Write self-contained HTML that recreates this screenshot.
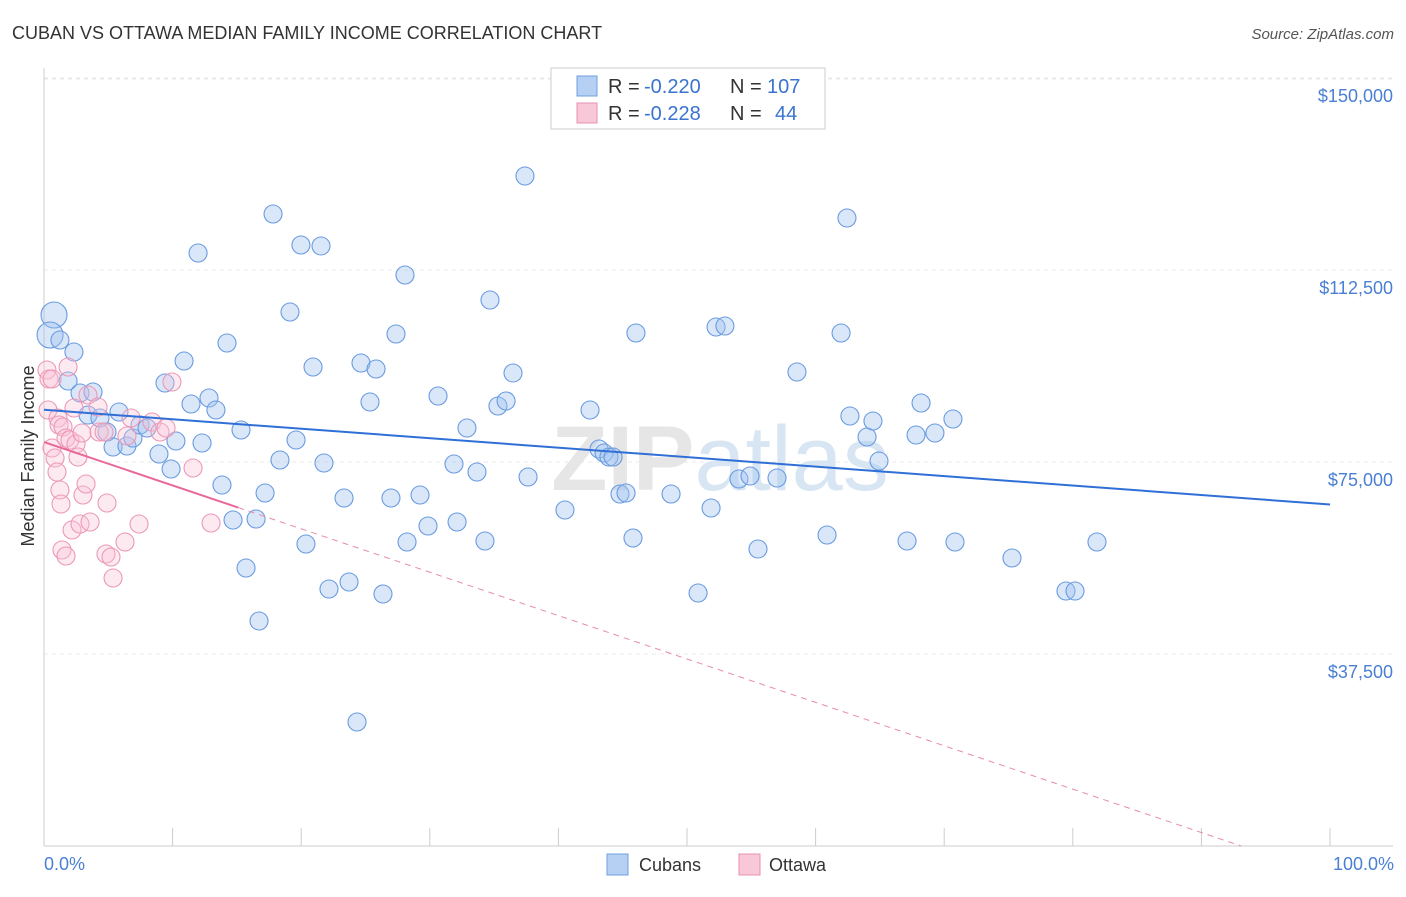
<!DOCTYPE html>
<html><head><meta charset="utf-8"><style>
body{margin:0;background:#fff;font-family:"Liberation Sans",sans-serif}
svg text{font-family:"Liberation Sans",sans-serif}
</style></head><body>
<svg id="chart" width="1406" height="892" viewBox="0 0 1406 892">
<text x="12" y="39" font-size="18" fill="#333">CUBAN VS OTTAWA MEDIAN FAMILY INCOME CORRELATION CHART</text>
<text x="1394" y="39" font-size="15" fill="#555" font-style="italic" text-anchor="end">Source: ZipAtlas.com</text>
<g id="grid"></g>
<text x="720" y="490" font-size="92" fill="#e6e6e6" text-anchor="middle" font-weight="bold">ZIP<tspan fill="#d8e6f4" font-weight="normal">atlas</tspan></text>
<line x1="44" y1="68" x2="44" y2="846" stroke="#ccc"/>
<line x1="44" y1="846" x2="1393" y2="846" stroke="#ccc"/>
<text transform="translate(34,456) rotate(-90)" font-size="18" fill="#333" text-anchor="middle">Median Family Income</text>
<text x="44" y="870" font-size="18" fill="#4a7fd4">0.0%</text>
<text x="1394" y="870" font-size="18" fill="#4a7fd4" text-anchor="end">100.0%</text>
<g id="marks"></g>
<g>
<rect x="551" y="68" width="274" height="61" fill="#fff" stroke="#ccc"/>
<rect x="577" y="76" width="20" height="20" fill="#b5d0f2" stroke="#6f9fe0"/>
<text x="608" y="93" font-size="20" fill="#333">R =</text>
<text x="644" y="93" font-size="20" fill="#3a74d0">-0.220</text>
<text x="730" y="93" font-size="20" fill="#333">N =</text>
<text x="767" y="93" font-size="20" fill="#3a74d0">107</text>
<rect x="577" y="103" width="20" height="20" fill="#f8c8d8" stroke="#e890b0"/>
<text x="608" y="120" font-size="20" fill="#333">R =</text>
<text x="644" y="120" font-size="20" fill="#3a74d0">-0.228</text>
<text x="730" y="120" font-size="20" fill="#333">N =</text>
<text x="775" y="120" font-size="20" fill="#3a74d0">44</text>
</g>
<g>
<rect x="607" y="854" width="21" height="21" fill="#b5d0f2" stroke="#6f9fe0"/>
<text x="639" y="871" font-size="18" fill="#333">Cubans</text>
<rect x="739" y="854" width="21" height="21" fill="#f8c8d8" stroke="#e890b0"/>
<text x="769" y="871" font-size="18" fill="#333">Ottawa</text>
</g>
</svg>
<script>
const yTicks=[37500,75000,112500,150000];
const yTickLabels=["$37,500","$75,000","$112,500","$150,000"];
const xTicks=[0,10,20,30,40,50,60,70,80,90,100];
const cubanPx=[[54,315],[50,335],[60,340],[74,352],[68,381],[80,393],[93,392],[88,415],[100,418],[107,432],[113,447],[119,412],[127,446],[133,438],[140,425],[147,428],[159,454],[165,383],[171,469],[176,441],[184,361],[191,404],[198,253],[202,443],[209,398],[216,410],[222,485],[227,343],[233,520],[241,430],[246,568],[256,519],[259,621],[265,493],[273,214],[280,460],[290,312],[296,440],[301,245],[306,544],[313,367],[321,246],[324,463],[329,589],[344,498],[349,582],[357,722],[361,363],[370,402],[376,369],[383,594],[391,498],[396,334],[405,275],[407,542],[420,495],[428,526],[438,396],[454,464],[457,522],[467,428],[477,472],[485,541],[490,300],[498,406],[506,401],[513,373],[528,477],[525,176],[565,510],[590,410],[599,449],[604,453],[609,457],[613,457],[620,494],[626,493],[633,538],[636,333],[671,494],[698,593],[711,508],[716,327],[725,326],[739,479],[750,476],[758,549],[777,478],[797,372],[827,535],[841,333],[847,218],[850,416],[867,437],[873,421],[879,461],[907,541],[916,435],[921,403],[935,433],[953,419],[955,542],[1012,558],[1066,591],[1075,591],[1097,542]];
const ottawaPx=[[47,370],[49,379],[52,379],[48,410],[52,448],[55,458],[57,472],[58,418],[59,425],[60,490],[61,504],[62,550],[63,427],[66,438],[66,556],[68,367],[70,440],[72,530],[74,408],[76,444],[78,457],[80,524],[82,433],[83,495],[86,484],[88,395],[90,522],[99,432],[104,432],[106,554],[107,503],[111,557],[113,578],[125,542],[127,436],[131,418],[139,524],[152,422],[160,432],[166,428],[172,382],[193,468],[211,523],[98,407]];
const cubanX=cubanPx.map(p=>+((p[0]-44)/12.86).toFixed(2));
const cubanY=cubanPx.map(p=>Math.round((846-p[1])/192*37500));
const ottawaX=ottawaPx.map(p=>+((p[0]-44)/12.86).toFixed(2));
const ottawaY=ottawaPx.map(p=>Math.round((846-p[1])/192*37500));
const cubanTrend=[85200,66700];
const ottawaTrend=[78900,0];
const ottawaTrendEnd=93.1, ottawaSolidEnd=15.1;
const sx=v=>44+v*12.86, sy=v=>846-v/37500*192;
const NS="http://www.w3.org/2000/svg";
const grid=document.getElementById('grid'), marks=document.getElementById('marks');
function mk(tag,attrs,parent){const e=document.createElementNS(NS,tag);for(const k in attrs)e.setAttribute(k,attrs[k]);parent.appendChild(e);return e;}
yTicks.forEach((t,i)=>{
 const l=mk('line',{x1:44,x2:1393,y1:sy(t),y2:sy(t),stroke:'#e8e8e8','stroke-dasharray':'4,4'},grid);
 
 
 const tx=mk('text',{x:1393,y:sy(t)+24,'font-size':18,fill:'#4a7fd4','text-anchor':'end'},grid);
 tx.textContent=yTickLabels[i];
 
 
});
const topL=mk('line',{x1:44,x2:1393,y1:79,y2:79,stroke:'#e8e8e8','stroke-dasharray':'4,4'},grid);


xTicks.forEach(t=>{
 const l=mk('line',{x1:sx(t),x2:sx(t),y1:828,y2:846,stroke:'#ccc'},grid);
 
 
});
cubanX.forEach((x,i)=>{
 const r=i<2?13:9;
 const c=mk('circle',{cx:sx(x),cy:sy(cubanY[i]),r:r,fill:'rgba(160,196,240,0.4)',stroke:'#6a9be0','stroke-width':1.1},marks);
 
 
});
ottawaX.forEach((x,i)=>{
 const c=mk('circle',{cx:sx(x),cy:sy(ottawaY[i]),r:9,fill:'rgba(248,195,215,0.35)',stroke:'#ec98b6','stroke-width':1.1},marks);
 
 
});
const bl=mk('line',{x1:sx(0),y1:sy(cubanTrend[0]),x2:sx(100),y2:sy(cubanTrend[1]),stroke:'#2f6fd6','stroke-width':2},marks);


const oy=x=>ottawaTrend[0]+(ottawaTrend[1]-ottawaTrend[0])*x/ottawaTrendEnd;
const pd=mk('line',{x1:sx(ottawaSolidEnd),y1:sy(oy(ottawaSolidEnd)),x2:sx(ottawaTrendEnd),y2:sy(oy(ottawaTrendEnd)),stroke:'#e88aab','stroke-width':1,'stroke-dasharray':'6,5'},marks);


const ps=mk('line',{x1:sx(0),y1:sy(oy(0)),x2:sx(ottawaSolidEnd),y2:sy(oy(ottawaSolidEnd)),stroke:'#e8689a','stroke-width':2},marks);


</script>
</body></html>
